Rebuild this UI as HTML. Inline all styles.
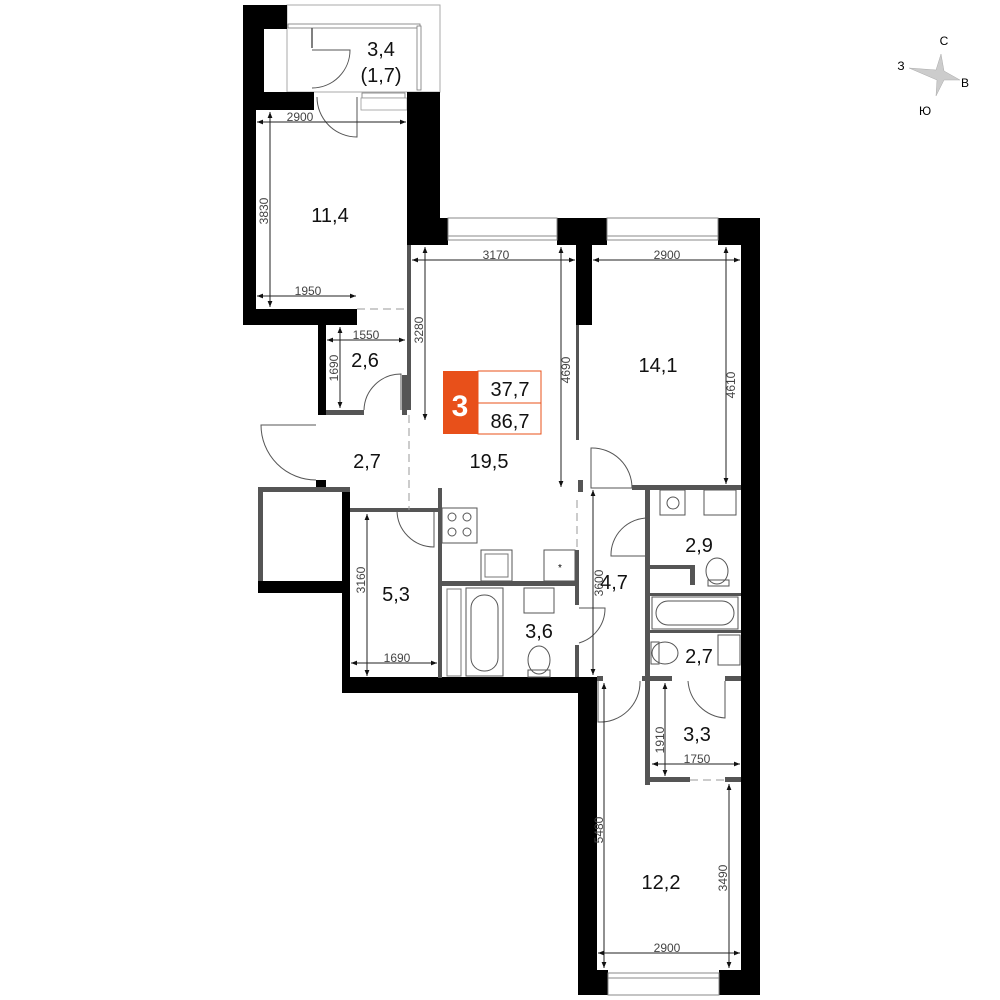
<!DOCTYPE html>
<html><head><meta charset="utf-8"><style>
body{margin:0;background:#fff;width:1000px;height:1000px;overflow:hidden}
svg{display:block}
.r{font-family:"Liberation Sans","DejaVu Sans",sans-serif;font-size:20px;fill:#111}
.d{font-family:"Liberation Sans","DejaVu Sans",sans-serif;font-size:12px;fill:#444}
.b{fill:#000}
.g{fill:#555}
.dl{stroke:#222;stroke-width:1;fill:none}
.th{stroke:#555;stroke-width:1;fill:none}
</style></head><body>
<svg width="1000" height="1000" viewBox="0 0 1000 1000" xmlns="http://www.w3.org/2000/svg">
<defs>
<marker id="a" viewBox="0 0 10 10" refX="10" refY="5" markerWidth="8" markerHeight="6" orient="auto-start-reverse"><path d="M0,1 L10,5 L0,9z" fill="#111"/></marker>
</defs>
<!-- balcony outline -->
<rect x="287" y="5" width="153" height="87" fill="none" stroke="#aaa" stroke-width="1"/>
<rect x="288" y="24" width="132" height="4" fill="#fff" stroke="#777" stroke-width="0.8"/>
<rect x="417" y="26" width="4" height="64" fill="#fff" stroke="#777" stroke-width="0.8"/>
<rect x="362" y="93" width="43" height="5" fill="#fff" stroke="#777" stroke-width="0.8"/>
<rect x="361" y="98" width="46" height="12" fill="#fff" stroke="#999" stroke-width="0.8"/>
<!-- black walls -->
<rect class="b" x="243" y="5" width="44" height="24"/>
<rect class="b" x="243" y="5" width="21" height="105"/>
<rect class="b" x="243" y="5" width="13" height="320"/>
<rect class="b" x="243" y="92" width="71" height="18"/>
<rect class="b" x="407" y="92" width="33" height="153"/>
<rect class="b" x="407" y="218" width="41" height="27"/>
<rect class="b" x="243" y="309" width="114" height="16"/>
<rect class="b" x="318" y="325" width="8" height="90"/>
<rect class="b" x="557" y="218" width="35" height="27"/>
<rect class="b" x="576" y="218" width="16" height="107"/>
<rect class="b" x="590" y="218" width="17" height="27"/>
<rect class="b" x="718" y="218" width="42" height="27"/>
<rect class="b" x="741" y="218" width="19" height="777"/>
<rect class="b" x="578" y="680" width="19" height="315"/>
<rect class="b" x="578" y="970" width="30" height="25"/>
<rect class="b" x="719" y="970" width="41" height="25"/>
<rect class="b" x="342" y="677" width="255" height="16"/>
<rect class="b" x="342" y="487" width="8" height="206"/>
<rect class="b" x="258" y="581" width="92" height="12"/>
<rect class="b" x="316" y="480" width="10" height="9"/>
<!-- windows -->
<rect x="448" y="218" width="109" height="22" fill="#fff" stroke="#888"/>
<line x1="448" y1="236" x2="557" y2="236" stroke="#888"/>
<rect x="607" y="218" width="111" height="22" fill="#fff" stroke="#888"/>
<line x1="607" y1="236" x2="718" y2="236" stroke="#888"/>
<rect x="608" y="973" width="111" height="22" fill="#fff" stroke="#888"/>
<line x1="608" y1="978" x2="719" y2="978" stroke="#888"/>
<!-- gray interior walls -->
<rect class="g" x="407" y="245" width="4" height="165"/>
<rect class="g" x="326" y="410" width="38" height="5"/>
<rect class="g" x="402" y="375" width="5" height="40"/>
<rect class="g" x="576" y="325" width="3" height="115"/>
<rect class="g" x="350" y="508" width="90" height="4"/>
<rect class="g" x="438" y="488" width="4" height="190"/>
<rect class="g" x="442" y="581" width="135" height="5"/>
<rect class="g" x="575" y="550" width="4" height="55"/>
<rect class="g" x="575" y="645" width="4" height="32"/>
<rect class="g" x="578" y="480" width="5" height="12"/>
<rect class="g" x="632" y="485" width="109" height="5"/>
<rect class="g" x="645" y="485" width="5" height="300"/>
<rect class="g" x="650" y="565" width="45" height="4"/>
<rect class="g" x="690" y="565" width="5" height="20"/>
<rect class="g" x="650" y="593" width="91" height="3"/>
<rect class="g" x="650" y="630" width="91" height="3"/>
<rect class="g" x="597" y="676" width="6" height="5"/>
<rect class="g" x="642" y="676" width="30" height="5"/>
<rect class="g" x="725" y="676" width="16" height="5"/>
<rect class="g" x="650" y="777" width="40" height="5"/>
<rect class="g" x="725" y="777" width="16" height="5"/>
<rect class="g" x="258" y="487" width="92" height="5"/>
<rect class="g" x="258" y="487" width="5" height="94"/>
<!-- dashed openings -->
<line x1="357" y1="309" x2="407" y2="309" stroke="#999" stroke-dasharray="8,5"/>
<line x1="409" y1="415" x2="409" y2="510" stroke="#999" stroke-dasharray="8,5"/>
<line x1="577" y1="500" x2="577" y2="550" stroke="#999" stroke-dasharray="8,5"/>
<line x1="690" y1="780" x2="725" y2="780" stroke="#999" stroke-dasharray="8,5"/>
<!-- doors -->
<line x1="312" y1="28" x2="312" y2="48" stroke="#555" stroke-width="1.5"/>
<path class="th" d="M312,50 L350,50 A38,38 0 0 1 312,88"/>
<path class="th" d="M317,97 A40,40 0 0 0 357,137 L357,97"/>
<path class="th" d="M364,410 A37,37 0 0 1 401,374 L401,410"/>
<path class="th" d="M316,480 A55,55 0 0 1 261,425 L316,425"/>
<path class="th" d="M397,510 A37,37 0 0 0 434,547 L434,510"/>
<path class="th" d="M591,448 A40,40 0 0 1 632,488 L591,488 Z"/>
<path class="th" d="M648,518 A37,37 0 0 0 611,556 L648,556"/>
<path class="th" d="M579,608 L605,608 A36,36 0 0 1 579,643"/>
<path class="th" d="M598,681 L598,722 A40,40 0 0 0 640,681"/>
<path class="th" d="M688,681 A40,40 0 0 0 725,718 L725,681"/>
<!-- fixtures -->
<rect x="442" y="508" width="35" height="35" fill="none" stroke="#555"/>
<circle cx="452" cy="517" r="4" class="th"/><circle cx="467" cy="517" r="4" class="th"/>
<circle cx="452" cy="532" r="4" class="th"/><circle cx="467" cy="532" r="4" class="th"/>
<rect x="481" y="550" width="31" height="31" fill="none" stroke="#555"/>
<rect x="485" y="554" width="23" height="23" fill="none" stroke="#777"/>
<rect x="544" y="550" width="31" height="31" fill="none" stroke="#555"/>
<text x="560" y="571" text-anchor="middle" font-size="10" font-family="Liberation Sans">*</text>
<rect x="466" y="588" width="37" height="88" fill="none" stroke="#555"/>
<rect x="471" y="595" width="27" height="76" rx="13" fill="none" stroke="#555"/>
<rect x="447" y="589" width="14" height="87" fill="none" stroke="#777"/>
<rect x="524" y="588" width="30" height="25" fill="none" stroke="#555"/>
<ellipse cx="539" cy="660" rx="11" ry="14" class="th"/>
<rect x="528" y="670" width="22" height="7" fill="none" stroke="#555"/>
<rect x="660" y="490" width="25" height="25" fill="none" stroke="#555"/>
<circle cx="673" cy="503" r="6" class="th"/>
<rect x="704" y="490" width="32" height="25" fill="none" stroke="#555"/>
<ellipse cx="717" cy="571" rx="11" ry="13" class="th"/>
<rect x="708" y="580" width="21" height="6" fill="none" stroke="#555"/>
<rect x="652" y="597" width="86" height="32" fill="none" stroke="#555"/>
<rect x="656" y="601" width="78" height="24" rx="12" fill="none" stroke="#555"/>
<ellipse cx="665" cy="653" rx="13" ry="11" class="th"/>
<rect x="651" y="642" width="8" height="22" fill="none" stroke="#555"/>
<rect x="718" y="635" width="22" height="30" fill="none" stroke="#555"/>
<!-- dimension lines -->
<g class="dl" marker-start="url(#a)" marker-end="url(#a)">
<line x1="257" y1="122" x2="406" y2="122"/>
<line x1="270" y1="112" x2="270" y2="307"/>
<line x1="257" y1="296" x2="356" y2="296"/>
<line x1="327" y1="340" x2="405" y2="340"/>
<line x1="340" y1="327" x2="340" y2="408"/>
<line x1="412" y1="260" x2="575" y2="260"/>
<line x1="425" y1="247" x2="425" y2="420"/>
<line x1="561" y1="247" x2="561" y2="487"/>
<line x1="593" y1="260" x2="740" y2="260"/>
<line x1="726" y1="247" x2="726" y2="484"/>
<line x1="367" y1="514" x2="367" y2="676"/>
<line x1="351" y1="663" x2="437" y2="663"/>
<line x1="593" y1="490" x2="593" y2="675"/>
<line x1="652" y1="764" x2="740" y2="764"/>
<line x1="665" y1="683" x2="665" y2="776"/>
<line x1="604" y1="683" x2="604" y2="968"/>
<line x1="729" y1="784" x2="729" y2="968"/>
<line x1="598" y1="953" x2="740" y2="953"/>
</g>
<!-- dim labels -->
<text class="d" x="300" y="121" text-anchor="middle">2900</text>
<text class="d" transform="translate(268,211) rotate(-90)" text-anchor="middle">3830</text>
<text class="d" x="308" y="295" text-anchor="middle">1950</text>
<text class="d" x="366" y="339" text-anchor="middle">1550</text>
<text class="d" transform="translate(338,368) rotate(-90)" text-anchor="middle">1690</text>
<text class="d" x="496" y="259" text-anchor="middle">3170</text>
<text class="d" transform="translate(423,330) rotate(-90)" text-anchor="middle">3280</text>
<text class="d" transform="translate(570,370) rotate(-90)" text-anchor="middle">4690</text>
<text class="d" x="667" y="259" text-anchor="middle">2900</text>
<text class="d" transform="translate(735,385) rotate(-90)" text-anchor="middle">4610</text>
<text class="d" transform="translate(365,580) rotate(-90)" text-anchor="middle">3160</text>
<text class="d" x="397" y="662" text-anchor="middle">1690</text>
<text class="d" transform="translate(603,583) rotate(-90)" text-anchor="middle">3600</text>
<text class="d" x="697" y="763" text-anchor="middle">1750</text>
<text class="d" transform="translate(664,740) rotate(-90)" text-anchor="middle">1910</text>
<text class="d" transform="translate(603,830) rotate(-90)" text-anchor="middle">5480</text>
<text class="d" transform="translate(727,878) rotate(-90)" text-anchor="middle">3490</text>
<text class="d" x="667" y="952" text-anchor="middle">2900</text>
<!-- room labels -->
<text class="r" x="381" y="56" text-anchor="middle">3,4</text>
<text class="r" x="381" y="82" text-anchor="middle">(1,7)</text>
<text class="r" x="330" y="222" text-anchor="middle">11,4</text>
<text class="r" x="365" y="367" text-anchor="middle">2,6</text>
<text class="r" x="367" y="468" text-anchor="middle">2,7</text>
<text class="r" x="489" y="468" text-anchor="middle">19,5</text>
<text class="r" x="658" y="372" text-anchor="middle">14,1</text>
<text class="r" x="396" y="601" text-anchor="middle">5,3</text>
<text class="r" x="539" y="638" text-anchor="middle">3,6</text>
<text class="r" x="614" y="589" text-anchor="middle">4,7</text>
<text class="r" x="699" y="552" text-anchor="middle">2,9</text>
<text class="r" x="699" y="663" text-anchor="middle">2,7</text>
<text class="r" x="697" y="741" text-anchor="middle">3,3</text>
<text class="r" x="661" y="889" text-anchor="middle">12,2</text>
<!-- logo -->
<rect x="443" y="371" width="35" height="63" fill="#e8501a"/>
<text x="460" y="416" text-anchor="middle" font-family="Liberation Sans" font-weight="bold" font-size="30" fill="#fff">3</text>
<rect x="478" y="371" width="63" height="63" fill="none" stroke="#e8501a"/>
<line x1="478" y1="403" x2="541" y2="403" stroke="#e8501a"/>
<text x="510" y="396" text-anchor="middle" class="r">37,7</text>
<text x="510" y="428" text-anchor="middle" class="r">86,7</text>
<!-- compass -->
<path d="M941,54 L944,71 L960,80 L944,80 L936,96 L937,80 L909,68 L936,70 Z" fill="#ccc" stroke="#aaa" stroke-width="0.5"/>
<text x="944" y="45" text-anchor="middle" font-family="Liberation Sans" font-size="12">С</text>
<text x="901" y="70" text-anchor="middle" font-family="Liberation Sans" font-size="12">З</text>
<text x="965" y="87" text-anchor="middle" font-family="Liberation Sans" font-size="12">В</text>
<text x="925" y="115" text-anchor="middle" font-family="Liberation Sans" font-size="12">Ю</text>
</svg>
</body></html>
